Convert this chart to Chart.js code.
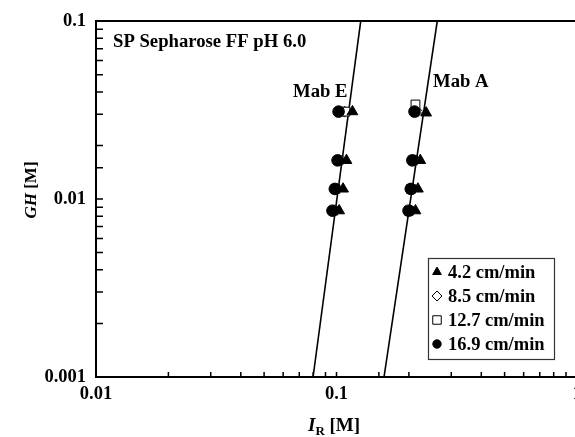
<!DOCTYPE html>
<html>
<head>
<meta charset="utf-8">
<script src="https://cdn.jsdelivr.net/npm/chart.js@4.4.1/dist/chart.umd.min.js"></script>
<style>
html, body { margin: 0; padding: 0; background: #fff; overflow: hidden; }
#wrap { width: 600px; height: 437px; }
</style>
</head>
<body>
<div id="wrap"><canvas id="ghChart" width="600" height="437"></canvas></div>
<script>
// flow rates (legend) and the I_R / GH readings, Mab E first 4 points then Mab A
const flowRates = ['4.2 cm/min', '8.5 cm/min', '12.7 cm/min', '16.9 cm/min'];

const irTri = [0.1165, 0.110, 0.1065, 0.1026, 0.236, 0.223, 0.218, 0.213];
const ghTri = [0.031, 0.0165, 0.0114, 0.0086, 0.0305, 0.0165, 0.0114, 0.0086];

const irDia = [0.108, 0.103, 0.1005, 0.0975, 0.217, 0.213, 0.209, 0.205];
const ghDia = [0.031, 0.0165, 0.0114, 0.0086, 0.031, 0.0165, 0.0114, 0.0086];

const irSq = [0.109, 0.102, 0.099, 0.097, 0.213, 0.208, 0.204, 0.200];
const ghSq = [0.031, 0.0165, 0.0114, 0.0086, 0.034, 0.0165, 0.0114, 0.0086];

const irCirc = [0.102, 0.101, 0.0984, 0.0962, 0.211, 0.2067, 0.2036, 0.1993];
const ghCirc = [0.031, 0.0165, 0.0114, 0.0086, 0.031, 0.0165, 0.0114, 0.0086];

// fitted lines
const lineE_ir = [0.0799, 0.1261];
const lineE_gh = [0.001, 0.1];
const lineA_ir = [0.1576, 0.2624];
const lineA_gh = [0.001, 0.1];

const xTickLabels = ['0.01', '0.1', '1'];
const yTickLabels = ['0.001', '0.01', '0.1'];

const serif = '"Liberation Serif", "Times New Roman", serif';

function pts(xs, ys) {
    return xs.map((x, i) => ({ x: x, y: ys[i] }));
}

function isDecade(v) {
    const l = Math.log10(v);
    return Math.abs(l - Math.round(l)) < 1e-6;
}

// order: lower number drawn on top
const markers = [
    { style: 'triangle', radius: 6.2, fill: '#000', legendR: 5, order: 0 },
    { style: 'rectRot', radius: 5.5, fill: '#fff', legendR: 5, order: 3 },
    { style: 'rect', radius: 6.2, fill: '#fff', legendR: 6, order: 2 },
    { style: 'circle', radius: 5.8, fill: '#000', legendR: 4.2, order: 1 }
];
const seriesData = [pts(irTri, ghTri), pts(irDia, ghDia), pts(irSq, ghSq), pts(irCirc, ghCirc)];

const datasets = seriesData.map((d, i) => ({
    label: flowRates[i],
    data: d,
    pointStyle: markers[i].style,
    pointRadius: markers[i].radius,
    pointBackgroundColor: markers[i].fill,
    pointBorderColor: '#000',
    pointBorderWidth: 1,
    showLine: false,
    order: markers[i].order
}));
[[lineE_ir, lineE_gh], [lineA_ir, lineA_gh]].forEach(l => {
    datasets.push({
        label: '',
        data: pts(l[0], l[1]),
        showLine: true,
        borderColor: '#000',
        borderWidth: 1.6,
        pointRadius: 0,
        order: 9
    });
});

function drawPieces(ctx, pieces, x, y) {
    pieces.forEach(p => {
        ctx.font = p.font;
        ctx.fillText(p.text, x, y + (p.dy || 0));
        x += ctx.measureText(p.text).width;
    });
}
function piecesWidth(ctx, pieces) {
    let w = 0;
    pieces.forEach(p => { ctx.font = p.font; w += ctx.measureText(p.text).width; });
    return w;
}

const decorations = {
    id: 'decorations',
    afterDatasetsDraw(chart) {
        const ctx = chart.ctx;
        const a = chart.chartArea;
        const xs = chart.scales.x, ys = chart.scales.y;
        ctx.save();
        ctx.strokeStyle = '#000';
        // frame top / right
        ctx.lineWidth = 2;
        ctx.beginPath();
        ctx.moveTo(a.left, a.top);
        ctx.lineTo(a.right, a.top);
        ctx.lineTo(a.right, a.bottom);
        ctx.stroke();
        // inward ticks
        ctx.lineWidth = 1.5;
        ctx.beginPath();
        xs.ticks.forEach(t => {
            const px = xs.getPixelForValue(t.value);
            if (px <= a.left + 1 || px >= a.right - 1) return;
            ctx.moveTo(px, a.bottom);
            ctx.lineTo(px, a.bottom - 5);
        });
        ys.ticks.forEach(t => {
            const py = ys.getPixelForValue(t.value);
            if (py >= a.bottom - 1 || py <= a.top + 1) return;
            ctx.moveTo(a.left, py);
            ctx.lineTo(a.left + 7, py);
        });
        ctx.stroke();

        ctx.fillStyle = '#000';
        ctx.textBaseline = 'alphabetic';
        ctx.textAlign = 'left';
        ctx.font = 'bold 18.7px ' + serif;
        ctx.fillText('SP Sepharose FF pH 6.0', 113, 47);
        ctx.fillText('Mab E', 293, 97);
        ctx.fillText('Mab A', 433, 87);

        // legend box
        ctx.lineWidth = 1.2;
        ctx.strokeStyle = '#333';
        ctx.fillStyle = '#fff';
        ctx.fillRect(428, 258, 126, 101);
        ctx.strokeRect(428.5, 258.5, 126, 101);
        flowRates.forEach((lab, i) => {
            const cy = 272 + i * 24;
            const m = markers[i];
            ctx.fillStyle = m.fill;
            ctx.strokeStyle = '#000';
            ctx.lineWidth = 1;
            Chart.helpers.drawPoint(ctx, { pointStyle: m.style, radius: m.legendR, rotation: 0, borderWidth: 1 }, 437, cy);
            ctx.fillStyle = '#000';
            ctx.font = 'bold 18.5px ' + serif;
            ctx.fillText(lab, 448, cy + 6);
        });

        // axis titles
        const big = 'bold 19px ' + serif;
        const bigIt = 'italic bold 19px ' + serif;
        drawPieces(ctx, [
            { text: 'I', font: bigIt },
            { text: 'R', font: 'bold 13px ' + serif, dy: 4 },
            { text: ' [M]', font: big }
        ], 308, 431);

        const yPieces = [
            { text: 'GH', font: 'italic bold 17px ' + serif },
            { text: ' [M]', font: 'bold 17px ' + serif }
        ];
        const w = piecesWidth(ctx, yPieces);
        ctx.translate(36, 190);
        ctx.rotate(-Math.PI / 2);
        drawPieces(ctx, yPieces, -w / 2, 0);
        ctx.restore();
    }
};

const tickFont = { family: serif, size: 18.5, weight: 'bold' };

new Chart(document.getElementById('ghChart').getContext('2d'), {
    type: 'scatter',
    data: { datasets: datasets },
    options: {
        responsive: false,
        animation: false,
        layout: { padding: { left: 0, top: 19, right: 23, bottom: 0 } },
        plugins: {
            legend: { display: false },
            tooltip: { enabled: false }
        },
        scales: {
            x: {
                type: 'logarithmic',
                min: 0.01,
                max: 1,
                afterFit: s => { s.height = 60; },
                grid: { display: false, drawTicks: false },
                border: { display: true, color: '#000', width: 2 },
                ticks: {
                    autoSkip: false,
                    maxRotation: 0,
                    padding: 6,
                    color: '#000',
                    font: tickFont,
                    callback: v => {
                        if (!isDecade(v)) return '';
                        return xTickLabels[Math.round(Math.log10(v)) + 2];
                    }
                }
            },
            y: {
                type: 'logarithmic',
                min: 0.001,
                max: 0.1,
                afterFit: s => { s.width = 96; },
                grid: { display: false, drawTicks: false },
                border: { display: true, color: '#000', width: 2 },
                ticks: {
                    autoSkip: false,
                    padding: 10,
                    color: '#000',
                    font: tickFont,
                    callback: v => {
                        if (!isDecade(v)) return '';
                        return yTickLabels[Math.round(Math.log10(v)) + 3];
                    }
                }
            }
        }
    },
    plugins: [decorations]
});
</script>
</body>
</html>
